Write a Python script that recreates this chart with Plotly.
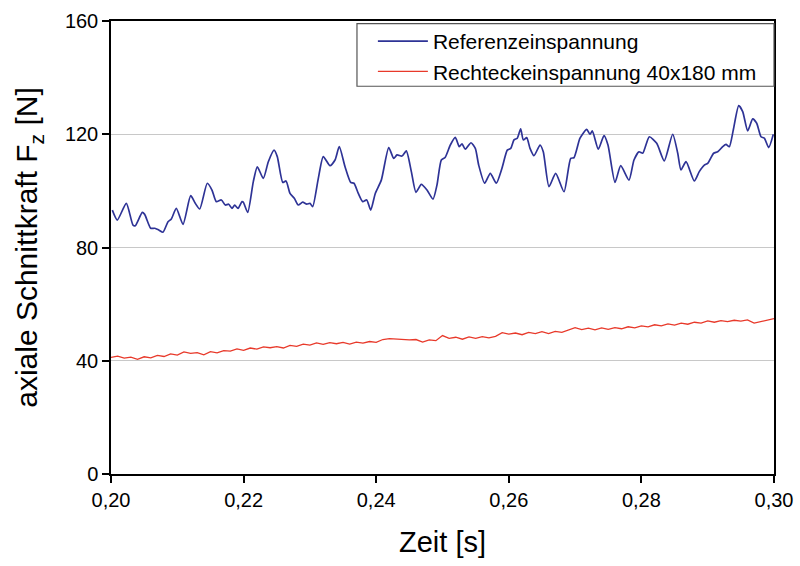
import plotly.graph_objects as go

# Referenzeinspannung (blue) - time [s], force [N]
t_ref = [0.2002, 0.20095, 0.20231, 0.20332, 0.20367, 0.20472, 0.20508, 0.20599, 0.20659, 0.20719,
         0.20784, 0.2086, 0.2091, 0.20985, 0.21086, 0.21202, 0.21271, 0.21338, 0.21452, 0.21523,
         0.21588, 0.21664, 0.21724, 0.21775, 0.21825, 0.21866, 0.21916, 0.21976, 0.21995, 0.22062,
         0.22146, 0.22207, 0.22297, 0.22373, 0.22459, 0.22508, 0.2259, 0.2264, 0.227, 0.22765,
         0.22825, 0.22891, 0.22952, 0.23002, 0.23042, 0.23127, 0.23202, 0.23303, 0.23379, 0.23443,
         0.2353, 0.23615, 0.23665, 0.2373, 0.23796, 0.23857, 0.23917, 0.23986, 0.24077, 0.24189,
         0.24264, 0.24314, 0.24389, 0.24454, 0.2453, 0.246, 0.2468, 0.24766, 0.24857, 0.24917,
         0.24982, 0.25042, 0.25118, 0.25193, 0.25253, 0.25294, 0.25344, 0.2543, 0.25495, 0.25546,
         0.25636, 0.25721, 0.25811, 0.25897, 0.25977, 0.26029, 0.26078, 0.26128, 0.26179, 0.26219,
         0.2627, 0.2632, 0.2638, 0.26471, 0.2652, 0.26606, 0.26707, 0.26833, 0.26934, 0.26983,
         0.27074, 0.27175, 0.27225, 0.2726, 0.2735, 0.27436, 0.27496, 0.27602, 0.27688, 0.27813,
         0.27888, 0.27964, 0.2802, 0.28119, 0.28231, 0.28345, 0.28472, 0.28548, 0.28597, 0.28673,
         0.28798, 0.28873, 0.28949, 0.29, 0.2909, 0.29151, 0.29226, 0.29276, 0.29326, 0.29386,
         0.29468, 0.29528, 0.29603, 0.29679, 0.29739, 0.29804, 0.29854, 0.2992, 0.2999]
f_ref = [93.2, 89.7, 95.6, 87.9, 87.7, 92.4, 91.7, 86.8, 86.8, 86.2,
         85.4, 89.1, 90.1, 93.8, 88.2, 98.3, 95.6, 93.6, 102.7, 100.3,
         96.2, 96.8, 95.0, 95.3, 93.8, 95.0, 93.8, 96.2, 96.0, 92.4,
         103.2, 108.5, 104.4, 110.3, 114.4, 112.1, 103.0, 103.5, 99.1, 97.4,
         95.0, 96.0, 95.3, 95.6, 94.4, 104.4, 112.1, 108.9, 110.9, 115.6,
         108.5, 103.0, 102.7, 99.1, 96.2, 96.8, 93.2, 99.1, 103.8, 115.3,
         111.5, 112.7, 112.3, 114.1, 106.8, 99.5, 102.3, 100.3, 97.1, 102.1,
         110.9, 111.9, 116.2, 118.9, 115.6, 116.6, 114.7, 117.0, 115.0, 109.1,
         102.7, 106.2, 102.7, 108.0, 114.4, 115.0, 118.0, 118.6, 121.9, 118.0,
         118.8, 115.0, 112.4, 116.2, 113.8, 101.5, 106.2, 99.7, 111.5, 111.7,
         118.6, 121.7, 120.0, 121.2, 114.7, 119.5, 116.2, 103.0, 108.9, 103.8,
         110.9, 113.8, 113.3, 119.1, 116.8, 110.6, 120.0, 113.3, 107.4, 110.3,
         103.5, 106.8, 109.1, 109.7, 113.3, 113.8, 115.6, 116.4, 115.6, 121.5,
         130.1, 128.0, 121.2, 125.4, 123.9, 119.1, 118.6, 115.3, 120.0]

# Rechteckeinspannung 40x180 mm (red)
t_rect = [0.200 + i * 0.001 for i in range(101)]
f_rect = [41.2, 41.6, 40.9, 41.3, 40.5, 41.4, 41.0, 41.9, 41.5, 42.4,
          42.0, 43.1, 42.6, 42.9, 42.1, 43.2, 42.8, 43.6, 43.4, 44.2,
          43.7, 44.5, 44.1, 44.9, 44.6, 45.0, 44.5, 45.4, 45.1, 45.9,
          45.5, 46.3, 45.8, 46.4, 46.0, 46.5, 45.9, 46.6, 46.2, 46.8,
          46.5, 47.5, 47.8, 47.6, 47.6, 47.4, 47.5, 46.6, 47.4, 47.1,
          48.9, 47.9, 48.3, 47.6, 48.4, 47.9, 48.5, 48.1, 48.6, 49.9,
          49.4, 49.8, 49.2, 50.0, 49.6, 50.3, 49.6, 50.4, 50.0, 50.8,
          51.7, 51.0, 51.5, 50.9, 51.6, 51.1, 51.7, 51.3, 52.0, 51.6,
          52.3, 52.0, 52.7, 52.3, 53.0, 52.6, 53.3, 52.9, 53.6, 53.3,
          54.1, 53.6, 54.2, 53.8, 54.3, 54.0, 54.4, 53.3, 53.9, 54.3,
          54.9]

x_ticks = [0.20, 0.22, 0.24, 0.26, 0.28, 0.30]
x_ticklabels = ["0,20", "0,22", "0,24", "0,26", "0,28", "0,30"]
y_ticks = [0, 40, 80, 120, 160]

font_family = "Liberation Sans, Arial, sans-serif"

fig = go.Figure()
fig.add_trace(go.Scatter(x=t_ref, y=f_ref, mode="lines", name="Referenzeinspannung",
                         line=dict(color="#2E3396", width=1.7, shape="spline", smoothing=0.6)))
fig.add_trace(go.Scatter(x=t_rect, y=f_rect, mode="lines", name="Rechteckeinspannung 40x180 mm",
                         line=dict(color="#E8392A", width=1.3)))

# legend frame (drawn as a box behind the legend entries)
fig.add_shape(type="rect", xref="paper", yref="paper", x0=0.371, x1=1.0, y0=0.856, y1=0.994,
              line=dict(color="#555555", width=1.2), fillcolor="white", layer="above")

fig.update_layout(
    width=800, height=566,
    margin=dict(l=111, r=26, t=21, b=92, autoexpand=False),
    paper_bgcolor="white", plot_bgcolor="white",
    font=dict(family=font_family, color="black", size=20),
    showlegend=True,
    legend=dict(x=0.395, xanchor="left", y=1.0, yanchor="top",
                bgcolor="rgba(0,0,0,0)", borderwidth=0,
                font=dict(size=21, family=font_family), itemwidth=50,
                tracegroupgap=0),
    xaxis=dict(range=[0.20, 0.30], tickvals=x_ticks, ticktext=x_ticklabels, automargin=False,
               showgrid=False, zeroline=False, showline=True, linecolor="black",
               linewidth=1.5, mirror=True, ticks="outside", ticklen=7, tickwidth=1.5,
               tickcolor="black", tickfont=dict(size=20),
               title=dict(text="Zeit [s]", font=dict(size=29), standoff=22)),
    yaxis=dict(range=[0, 160], tickvals=y_ticks, showgrid=True, gridcolor="#C8C8C8", automargin=False,
               gridwidth=1, zeroline=False, showline=True, linecolor="black",
               linewidth=1.5, mirror=True, ticks="outside", ticklen=7, tickwidth=1.5,
               tickcolor="black", tickfont=dict(size=20),
               title=dict(text="axiale Schnittkraft F<sub>z</sub> [N]", font=dict(size=30), standoff=18)),
)

fig.write_html("out.html")
